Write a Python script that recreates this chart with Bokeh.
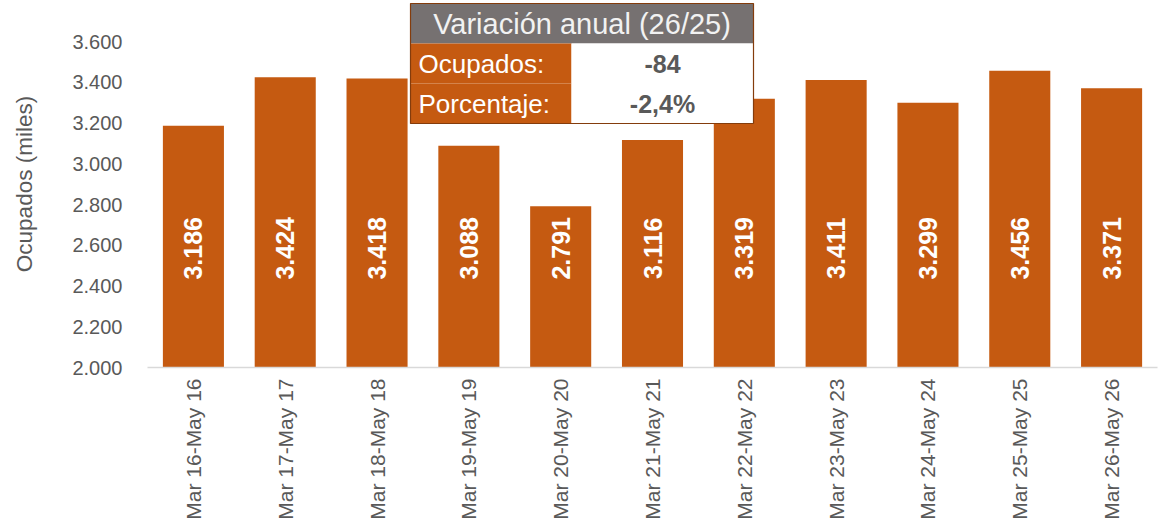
import math
from bokeh.plotting import figure
from bokeh.models import ColumnDataSource, FactorRange, Range1d, FixedTicker
from bokeh.core.properties import value
from bokeh.embed import file_html
from bokeh.resources import INLINE

# ---- data ----
categories = ["Mar 16-May 16", "Mar 17-May 17", "Mar 18-May 18", "Mar 19-May 19",
              "Mar 20-May 20", "Mar 21-May 21", "Mar 22-May 22", "Mar 23-May 23",
              "Mar 24-May 24", "Mar 25-May 25", "Mar 26-May 26"]
ocupados = [3186, 3424, 3418, 3088, 2791, 3116, 3319, 3411, 3299, 3456, 3371]
y_ticks = [2000, 2200, 2400, 2600, 2800, 3000, 3200, 3400, 3600]
table_title = "Variación anual (26/25)"
table_rows = ["Ocupados:", "Porcentaje:"]
table_values = ["-84", "-2,4%"]

def es_num(v):
    return f"{v:,}".replace(",", ".")

FONT = "Liberation Sans"
ORANGE = "#C55A11"
GREY = "#595959"

# ---- layout ----
W, H = 1160, 530
frame_left, frame_right = 147, 1157
frame_top, frame_bottom = 0, 367
px_per_unit = 326 / 1600.0
y_end = 2000 + (frame_bottom - frame_top) / px_per_unit

p = figure(x_range=FactorRange(*categories), y_range=Range1d(2000, y_end),
           width=W, height=H, output_backend="svg", toolbar_location=None,
           min_border_left=frame_left, min_border_right=W - frame_right,
           min_border_top=frame_top, min_border_bottom=H - frame_bottom)
p.outline_line_color = None
p.xgrid.grid_line_color = None
p.ygrid.grid_line_color = None
p.background_fill_color = "white"
p.border_fill_color = "white"

src = ColumnDataSource(dict(cat=categories, val=ocupados,
                            lab=[es_num(v) for v in ocupados],
                            ly=[2585] * len(categories)))
p.vbar(x="cat", top="val", bottom=2000, width=0.665, source=src,
       fill_color=ORANGE, line_color=None)
p.text(x="cat", y="ly", text="lab", source=src, angle=math.pi / 2,
       text_align="center", text_baseline="middle", text_color="white",
       text_font=value(FONT), text_font_style="bold", text_font_size="25px")

# ---- axes ----
xa = p.xaxis[0]
xa.axis_line_color = "#D9D9D9"
xa.axis_line_width = 1.5
xa.major_tick_line_color = None
xa.minor_tick_line_color = None
xa.major_tick_in = 0
xa.major_tick_out = 0
xa.minor_tick_in = 0
xa.minor_tick_out = 0
xa.major_label_orientation = math.pi / 2
xa.major_label_standoff = 11
xa.major_label_text_font = FONT
xa.major_label_text_font_size = "21px"
xa.major_label_text_color = GREY

ya = p.yaxis[0]
ya.ticker = FixedTicker(ticks=y_ticks)
ya.major_label_overrides = {t: es_num(t) for t in y_ticks}
ya.axis_line_color = None
ya.major_tick_line_color = None
ya.minor_tick_line_color = None
ya.major_tick_in = 0
ya.major_tick_out = 0
ya.minor_tick_in = 0
ya.minor_tick_out = 0
ya.major_label_standoff = 25
ya.major_label_text_font = FONT
ya.major_label_text_font_size = "20px"
ya.major_label_text_color = GREY
ya.axis_label = "Ocupados (miles)"
ya.axis_label_text_font = FONT
ya.axis_label_text_font_size = "22.5px"
ya.axis_label_text_font_style = "normal"
ya.axis_label_text_color = GREY
ya.axis_label_standoff = 32

# ---- summary table (overlay) ----
cat_px = (frame_right - frame_left) / len(categories)
def xd(px):
    return (px - frame_left) / cat_px
def yd(py):
    return 2000 + (frame_bottom - py) / px_per_unit

tl, tr, ts = 410, 753, 571
t0, t1, t2, t3 = 3, 43, 83, 123
p.quad(left=[xd(tl)], right=[xd(tr)], top=[yd(t0)], bottom=[yd(t1)],
       fill_color="#767171", line_color=None)
p.quad(left=[xd(tl), xd(tl)], right=[xd(ts), xd(ts)], top=[yd(t1), yd(t2)],
       bottom=[yd(t2), yd(t3)], fill_color=ORANGE, line_color=None)
p.quad(left=[xd(ts), xd(ts)], right=[xd(tr), xd(tr)], top=[yd(t1), yd(t2)],
       bottom=[yd(t2), yd(t3)], fill_color="white", line_color=None)
p.quad(left=[xd(tl)], right=[xd(tr)], top=[yd(t0)], bottom=[yd(t3)],
       fill_color=None, line_color="#843C0C", line_width=1.2)
p.text(x=[xd((tl + tr) / 2)], y=[yd((t0 + t1) / 2)], text=[table_title],
       text_align="center", text_baseline="middle", text_color="#F2F2F2",
       text_font=value(FONT), text_font_size="29px")
p.text(x=[xd(418)] * 2, y=[yd((t1 + t2) / 2), yd((t2 + t3) / 2)], text=table_rows,
       text_align="left", text_baseline="middle", text_color="white",
       text_font=value(FONT), text_font_size="26px")
p.text(x=[xd((ts + tr) / 2)] * 2, y=[yd((t1 + t2) / 2), yd((t2 + t3) / 2)],
       text=table_values, text_align="center", text_baseline="middle",
       text_color=GREY, text_font=value(FONT), text_font_style="bold",
       text_font_size="25px")

open("out.html", "w").write(file_html(p, INLINE))
